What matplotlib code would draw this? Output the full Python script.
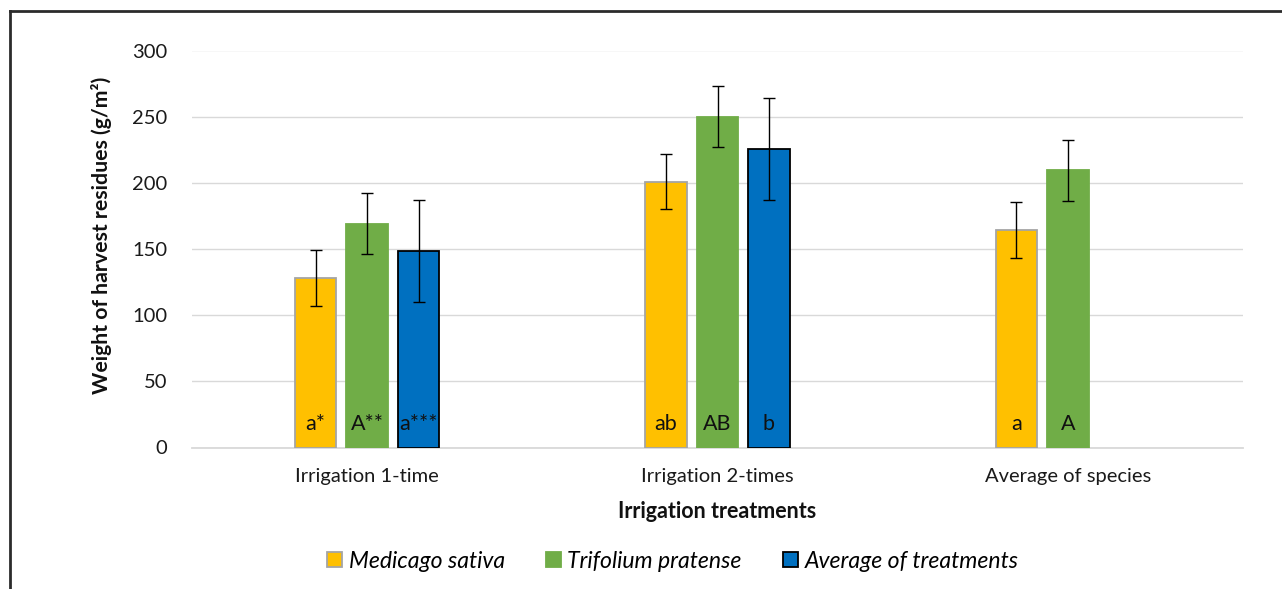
import matplotlib.pyplot as plt
from matplotlib.patches import Patch
from matplotlib.lines import Line2D

plt.rcParams['font.family'] = ['Lato', 'DejaVu Sans']

categories = ["Irrigation 1-time", "Irrigation 2-times", "Average of species"]
medicago = [128, 201, 164.5]
medicago_err = [21, 21, 21]
trifolium = [169, 250, 209.5]
trifolium_err = [23, 23, 23]
average = [148.5, 225.5]
average_err = [38.5, 38.5]

medicago_letters = ["a*", "ab", "a"]
trifolium_letters = ["A**", "AB", "A"]
average_letters = ["a***", "b"]

W, H = 1282, 589
fig = plt.figure(figsize=(W / 100, H / 100), dpi=100)
ax = fig.add_axes([192 / W, 1 - 447.5 / H, (1243 - 192) / W, (447.5 - 50.5) / H])

width = 0.118
step = 0.147
x = list(range(len(categories)))

series = [
    (medicago, medicago_err, medicago_letters, -step, '#FFC000', '#A5A5A5', 'Medicago sativa'),
    (trifolium, trifolium_err, trifolium_letters, 0, '#70AD47', '#70AD47', 'Trifolium pratense'),
    (average, average_err, average_letters, step, '#0070C0', '#000000', 'Average of treatments'),
]

handles = []
for vals, errs, letters, off, color, edge, name in series:
    xs = [x[i] + off for i in range(len(vals))]
    ax.bar(xs, vals, width=width, color=color, edgecolor=edge, linewidth=1.3, zorder=3)
    ax.errorbar(xs, vals, yerr=errs, fmt='none', ecolor='black', elinewidth=1.0,
                capsize=4.3, capthick=1.0, zorder=4)
    for xi, lab in zip(xs, letters):
        ax.text(xi, 18.0, lab, ha='center', va='center', fontsize=15.5, color='#111111', zorder=5)
    handles.append(Patch(facecolor=color, edgecolor=edge, linewidth=1.3, label=name))

ax.set_xlim(-0.5, 2.5)
ax.set_ylim(0, 300)
ax.set_yticks(range(0, 301, 50))
ax.set_xticks(x)
ax.set_xticklabels(categories)
ax.tick_params(axis='both', length=0, labelsize=14.5, colors='#1a1a1a')
ax.tick_params(axis='y', pad=18)
ax.tick_params(axis='x', pad=15)
ax.yaxis.grid(True, color='#D9D9D9', linewidth=1.0, zorder=0)
ax.set_axisbelow(True)
for s in ['top', 'right', 'left']:
    ax.spines[s].set_visible(False)
ax.spines['bottom'].set_color('#D9D9D9')
ax.spines['bottom'].set_linewidth(1.3)

fig.text(102 / W, 1 - 235 / H, "Weight of harvest residues (g/m²)", rotation=90,
         ha='center', va='center', fontsize=15.3, fontweight='bold', color='#111111')
fig.text(717 / W, 1 - 512 / H, "Irrigation treatments", ha='center', va='center',
         fontsize=15.5, fontweight='bold', color='#111111')

fig.legend(handles=handles, loc='center', bbox_to_anchor=(673 / W, 1 - 561 / H), ncol=3,
           frameon=False, prop={'style': 'italic', 'size': 16.6}, handlelength=0.62,
           handleheight=0.67, handletextpad=0.3, columnspacing=1.8)

# outer frame, only its top and left edges fall inside the canvas
fig.add_artist(Line2D([10 / W, 1.0], [1 - 11 / H, 1 - 11 / H], color='#2b2b2b', linewidth=2))
fig.add_artist(Line2D([10 / W, 10 / W], [1 - 11 / H, 0], color='#2b2b2b', linewidth=2))

fig.savefig('out.png', dpi=100)
